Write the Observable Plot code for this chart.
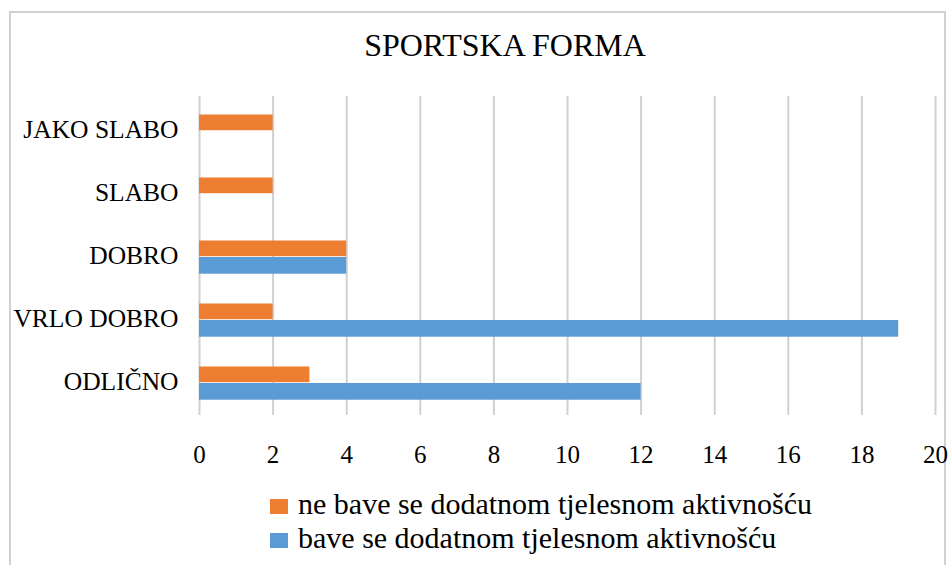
<!DOCTYPE html>
<html><head><meta charset="utf-8">
<script src="https://cdn.jsdelivr.net/npm/d3@7"></script>
<script src="https://cdn.jsdelivr.net/npm/@observablehq/plot@0.6"></script>
<style>
body{margin:0;background:#fff;}
#wrap{position:relative;width:949px;height:565px;overflow:hidden;font-family:"Liberation Serif","Times New Roman",serif;color:#000;}
#frame{position:absolute;left:9px;top:11px;width:933px;height:600px;border:2px solid #d0d0d0;}
#title{position:absolute;top:27px;left:0;width:1010px;text-align:center;font-size:32px;}
#chart{position:absolute;left:0;top:0;}
#legend{position:absolute;left:270px;top:487px;font-size:30px;line-height:34px;}
#legend div{white-space:nowrap;}
.sw{display:inline-block;width:18px;height:15px;margin-right:10px;}
</style></head>
<body>
<div id="wrap">
  <div id="frame"></div>
  <div id="chart"></div>
  <div id="title">SPORTSKA FORMA</div>
  <div id="legend"></div>
</div>
<script>
const categories = ["JAKO SLABO", "SLABO", "DOBRO", "VRLO DOBRO", "ODLIČNO"];
const seriesNames = ["ne bave se dodatnom tjelesnom aktivnošću", "bave se dodatnom tjelesnom aktivnošću"];
const neBave = [2, 2, 4, 2, 3];
const bave = [0, 0, 4, 19, 12];
const xTicks = [0, 2, 4, 6, 8, 10, 12, 14, 16, 18, 20];
const colors = ["#ED7D31", "#5B9BD5"];

const rowsNe = categories.map((c, i) => ({cat: c, v: neBave[i]}));
const rowsBave = categories.map((c, i) => ({cat: c, v: bave[i]}));

const plot = Plot.plot({
  width: 949,
  height: 480,
  marginLeft: 199,
  marginRight: 14,
  marginTop: 96,
  marginBottom: 65,
  style: {fontFamily: '"Liberation Serif","Times New Roman",serif', fontSize: "24px", color: "#000", background: "transparent", overflow: "visible"},
  x: {domain: [0, 20], label: null},
  y: {type: "band", domain: categories, padding: 0, label: null},
  marks: [
    Plot.gridX(xTicks, {stroke: "#d0d0d0", strokeOpacity: 1, strokeWidth: 2}),
    Plot.barX(rowsNe, {x: "v", y: "cat", fill: colors[0], insetTop: 16.5, insetBottom: 30.8}),
    Plot.barX(rowsBave, {x: "v", y: "cat", fill: colors[1], insetTop: 33, insetBottom: 13.3}),
    Plot.axisX(xTicks, {tickSize: 0, tickPadding: 30, fontSize: 25, label: null, tickFormat: d => String(d)}),
    Plot.axisY({tickSize: 0, tickPadding: 21, fontSize: 25.5, label: null})
  ]
});
document.getElementById("chart").appendChild(plot);

const legend = document.getElementById("legend");
seriesNames.forEach((name, i) => {
  const row = document.createElement("div");
  const sw = document.createElement("span");
  sw.className = "sw";
  sw.style.background = colors[i];
  row.appendChild(sw);
  row.appendChild(document.createTextNode(name));
  legend.appendChild(row);
});
</script>
</body></html>
